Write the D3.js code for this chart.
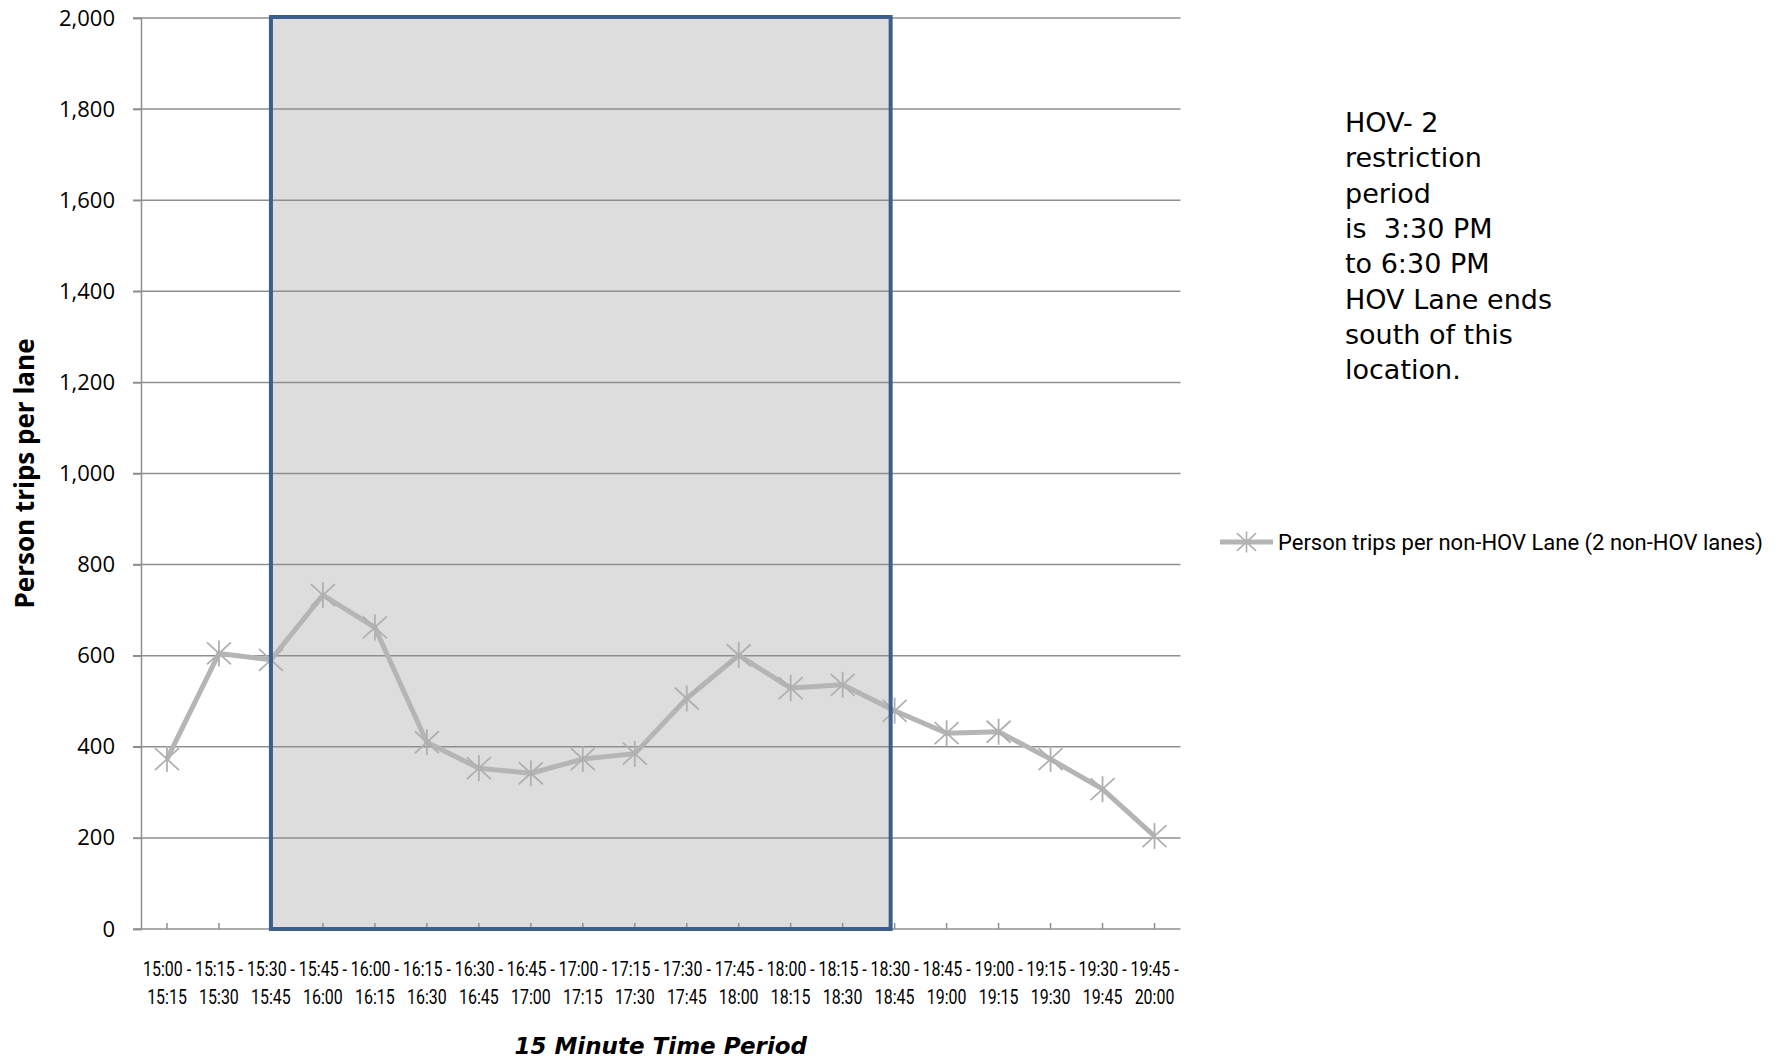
<!DOCTYPE html>
<html lang="en">
<head>
<meta charset="utf-8">
<title>Person trips per lane</title>
<script src="https://cdn.jsdelivr.net/npm/d3@7"></script>
<style>
  body { margin: 0; background: #fff; }
  .grid line { stroke: #8f8f8f; stroke-width: 1.5; }
  .yaxis path, .xaxis path { stroke: #8f8f8f; stroke-width: 1.5; fill: none; }
  .yaxis line, .xaxis line { stroke: #8f8f8f; stroke-width: 1.5; }
  .yaxis text { font-family: "Open Sans", sans-serif; font-size: 22px; fill: #000; }
  .xaxis text { font-family: Roboto, sans-serif; font-size: 21px; fill: #000; }
  .note { font-family: "DejaVu Sans", sans-serif; font-size: 27px; fill: #000; white-space: pre; }
</style>
</head>
<body>
<script>

var periods = ["15:00 - 15:15", "15:15 - 15:30", "15:30 - 15:45", "15:45 - 16:00",
  "16:00 - 16:15", "16:15 - 16:30", "16:30 - 16:45", "16:45 - 17:00",
  "17:00 - 17:15", "17:15 - 17:30", "17:30 - 17:45", "17:45 - 18:00",
  "18:00 - 18:15", "18:15 - 18:30", "18:30 - 18:45", "18:45 - 19:00",
  "19:00 - 19:15", "19:15 - 19:30", "19:30 - 19:45", "19:45 - 20:00"];
var trips = [373, 605, 591, 733, 662, 410, 353, 342, 373, 385,
  506, 601, 529, 536, 479, 430, 433, 373, 307, 204];
var yTicks = [0, 200, 400, 600, 800, 1000, 1200, 1400, 1600, 1800, 2000];
var restriction = ["15:30 - 15:45", "18:30 - 18:45"];
var seriesName = "Person trips per non-HOV Lane (2 non-HOV lanes)";
var noteLines = ["HOV- 2", "restriction", "period", "is  3:30 PM", "to 6:30 PM",
  "HOV Lane ends", "south of this", "location."];

var w = 1785, h = 1061;
var ml = 141, mt = 18, pw = 1039.5, ph = 911;

var svg = d3.select("body").append("svg")
  .attr("width", w)
  .attr("height", h);

var g = svg.append("g").attr("transform", "translate(" + ml + "," + mt + ")");

var x = d3.scaleBand().domain(periods).range([0, pw]);
var y = d3.scaleLinear().domain([0, 2000]).range([ph, 0]);
var cx = function(d){ return x(d) + x.bandwidth() / 2; };

// shaded restriction period
var rx0 = cx(restriction[0]), rx1 = cx(restriction[1]) - 4;
g.append("rect")
  .attr("x", rx0).attr("y", y(2000) - 1)
  .attr("width", rx1 - rx0).attr("height", y(0) - y(2000) + 1)
  .attr("fill", "#dddddd");

// gridlines
g.append("g").attr("class", "grid")
  .selectAll("line").data(yTicks.slice(1))
  .enter().append("line")
  .attr("x1", -8).attr("x2", pw)
  .attr("y1", function(d){ return y(d); })
  .attr("y2", function(d){ return y(d); });

var yAxis = d3.axisLeft(y).tickValues(yTicks).tickSize(8).tickPadding(18)
  .tickFormat(d3.format(","));
g.append("g").attr("class", "yaxis").call(yAxis);

var xAxis = d3.axisBottom(x).tickSizeInner(-6).tickSizeOuter(0).tickPadding(0);
var xg = g.append("g").attr("class", "xaxis")
  .attr("transform", "translate(0," + ph + ")")
  .call(xAxis);
xg.select("path").attr("d", "M-8,0H" + pw);
xg.selectAll(".tick text").each(function(d){
  var parts = d.split(" - ");
  var t = d3.select(this).text(null).attr("y", 0).attr("dy", null)
    .attr("transform", "scale(0.76,1)");
  t.append("tspan").attr("x", 0).attr("y", 47).text(parts[0] + " -");
  t.append("tspan").attr("x", 0).attr("y", 75).text(parts[1]);
});

// series line
var line = d3.line()
  .x(function(d, i){ return cx(periods[i]); })
  .y(function(d){ return y(d); });

g.append("path")
  .datum(trips)
  .attr("d", line)
  .attr("fill", "none")
  .attr("stroke", "#b5b5b5")
  .attr("stroke-width", 5)
  .attr("stroke-linejoin", "round");

function star(s){
  return "M0," + (-13 * s) + "V" + (13 * s) +
    "M" + (-12 * s) + "," + (-11 * s) + "L" + (12 * s) + "," + (11 * s) +
    "M" + (-12 * s) + "," + (11 * s) + "L" + (12 * s) + "," + (-11 * s);
}

g.append("g").selectAll("path").data(trips)
  .enter().append("path")
  .attr("transform", function(d, i){ return "translate(" + cx(periods[i]) + "," + y(d) + ")"; })
  .attr("d", star(1))
  .attr("fill", "none")
  .attr("stroke", "#b0b0b0")
  .attr("stroke-width", 1.8);

// restriction outline
g.append("rect")
  .attr("x", rx0).attr("y", y(2000) - 1)
  .attr("width", rx1 - rx0).attr("height", y(0) - y(2000) + 1)
  .attr("fill", "none")
  .attr("stroke", "#3b5e8c")
  .attr("stroke-width", 4);

// axis titles
svg.append("text")
  .attr("x", ml + pw / 2).attr("y", 1054)
  .attr("text-anchor", "middle")
  .attr("font-family", "DejaVu Sans, sans-serif")
  .attr("font-weight", "bold").attr("font-style", "italic")
  .attr("font-size", 23)
  .text("15 Minute Time Period");

svg.append("text")
  .attr("transform", "translate(34," + (mt + ph / 2) + ") rotate(-90)")
  .attr("text-anchor", "middle")
  .attr("font-family", "Open Sans, sans-serif")
  .attr("font-weight", "bold")
  .attr("font-size", 26)
  .text("Person trips per lane");

// legend
var lg = svg.append("g").attr("transform", "translate(1220,542)");
lg.append("line").attr("x1", 0).attr("x2", 53)
  .attr("stroke", "#b5b5b5").attr("stroke-width", 5);
lg.append("path").attr("transform", "translate(26.5,0)").attr("d", star(0.8))
  .attr("fill", "none").attr("stroke", "#b0b0b0").attr("stroke-width", 1.6);
lg.append("text").attr("x", 58).attr("dy", "0.35em")
  .attr("font-family", "Roboto, sans-serif")
  .attr("font-size", 22)
  .text(seriesName);

// note
svg.append("g").selectAll("text").data(noteLines)
  .enter().append("text")
  .attr("class", "note")
  .attr("x", 1345)
  .attr("y", function(d, i){ return 132 + i * 35.3; })
  .text(function(d){ return d; });

</script>
</body>
</html>
